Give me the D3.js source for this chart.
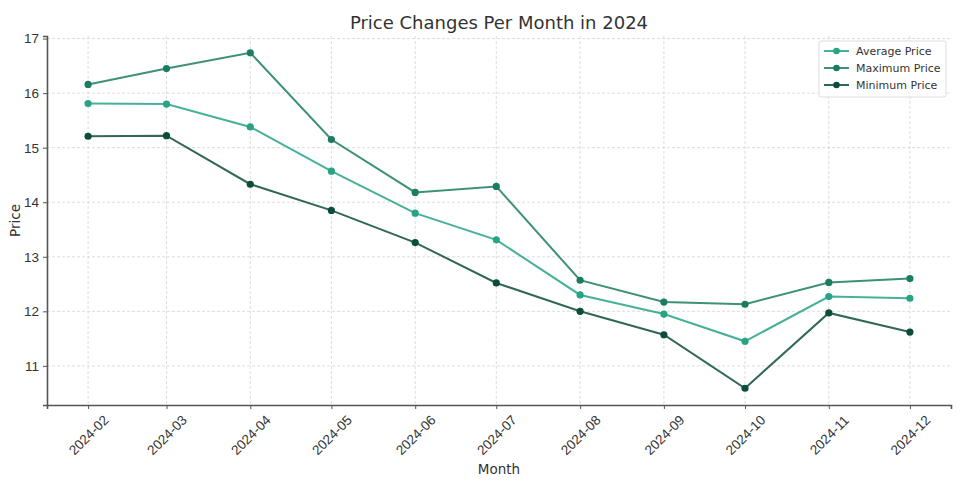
<!DOCTYPE html>
<html>
<head>
<meta charset="utf-8">
<script src="https://cdn.jsdelivr.net/npm/d3@7"></script>
<style>
  body { margin: 0; background: #fff; }
  svg { font-family: "DejaVu Sans", sans-serif; }
</style>
</head>
<body>
<svg width="960" height="500"></svg>
<script>
// data
var months = ["2024-02", "2024-03", "2024-04", "2024-05", "2024-06", "2024-07",
              "2024-08", "2024-09", "2024-10", "2024-11", "2024-12"];
var avgPrice = [15.81, 15.80, 15.38, 14.57, 13.80, 13.31, 12.30, 11.95, 11.45, 12.27, 12.24];
var maxPrice = [16.16, 16.45, 16.74, 15.15, 14.18, 14.29, 12.57, 12.17, 12.13, 12.53, 12.60];
var minPrice = [15.21, 15.22, 14.33, 13.85, 13.26, 12.52, 12.00, 11.57, 10.59, 11.97, 11.62];
var yTicks = [11, 12, 13, 14, 15, 16, 17];

var seriesNames = ["Average Price", "Maximum Price", "Minimum Price"];
var seriesValues = [avgPrice, maxPrice, minPrice];
var colors = ["#27a386", "#1c7c60", "#0c4c3a"];

var svg = d3.select("svg");
var margin = { top: 36, right: 9, bottom: 95, left: 47 };
var width = 960 - margin.left - margin.right;
var height = 500 - margin.top - margin.bottom;

var parse = d3.timeParse("%Y-%m");
var dates = months.map(parse);

// matplotlib style 5% padding
var xExt = d3.extent(dates);
var xPad = (xExt[1] - xExt[0]) * 0.05;
var x = d3.scaleTime()
    .domain([new Date(+xExt[0] - xPad), new Date(+xExt[1] + xPad)])
    .range([0, width]);

var allVals = avgPrice.concat(maxPrice, minPrice);
var yExt = d3.extent(allVals);
var yPad = (yExt[1] - yExt[0]) * 0.05;
var y = d3.scaleLinear()
    .domain([yExt[0] - yPad, yExt[1] + yPad])
    .range([height, 0]);

var g = svg.append("g").attr("transform", `translate(${margin.left},${margin.top})`);

// grid
g.append("g").selectAll("line.gy").data(yTicks).join("line")
    .attr("x1", 0).attr("x2", width)
    .attr("y1", d => y(d)).attr("y2", d => y(d))
    .attr("stroke", "#d4d4d4").attr("stroke-width", 0.8).attr("stroke-dasharray", "3,2");
g.append("g").selectAll("line.gx").data(dates).join("line")
    .attr("x1", d => x(d)).attr("x2", d => x(d))
    .attr("y1", 0).attr("y2", height)
    .attr("stroke", "#d4d4d4").attr("stroke-width", 0.8).attr("stroke-dasharray", "3,2");

// axes
var xAxis = g.append("g").attr("transform", `translate(0,${height})`)
    .call(d3.axisBottom(x).tickValues(dates).tickFormat(d3.timeFormat("%Y-%m")).tickSizeOuter(0).tickSize(4));
// labels centred under the tick, turned 45 degrees
xAxis.selectAll("text")
    .attr("font-size", 13.5).attr("fill", "#333")
    .attr("text-anchor", "middle")
    .attr("y", 0).attr("dy", "0.35em")
    .attr("transform", "translate(0,30) rotate(-45)");

var yAxis = g.append("g")
    .call(d3.axisLeft(y).tickValues(yTicks).tickFormat(d3.format("d")).tickSizeOuter(0).tickSize(4).tickPadding(4));
yAxis.selectAll("text").attr("font-size", 13.5).attr("fill", "#333");

g.selectAll(".domain").attr("stroke", "#555").attr("stroke-width", 1.6);
g.selectAll(".tick line").attr("stroke", "#555");

// lines and markers
var line = d3.line().x((d, i) => x(dates[i])).y(d => y(d));
seriesValues.forEach(function (vals, s) {
    g.append("path").datum(vals)
        .attr("fill", "none")
        .attr("stroke", colors[s])
        .attr("stroke-opacity", 0.85)
        .attr("stroke-width", 2)
        .attr("d", line);
    g.append("g").selectAll("circle").data(vals).join("circle")
        .attr("cx", (d, i) => x(dates[i]))
        .attr("cy", d => y(d))
        .attr("r", 3.6)
        .attr("fill", colors[s]);
});

// title and labels
svg.append("text").attr("x", margin.left + width / 2).attr("y", 29)
    .attr("text-anchor", "middle").attr("font-size", 18).attr("fill", "#333")
    .text("Price Changes Per Month in 2024");
svg.append("text").attr("x", margin.left + width / 2).attr("y", 474)
    .attr("text-anchor", "middle").attr("font-size", 13.5).attr("fill", "#333")
    .text("Month");
svg.append("text").attr("transform", `translate(20,${margin.top + height / 2}) rotate(-90)`)
    .attr("text-anchor", "middle").attr("font-size", 13.5).attr("fill", "#333")
    .text("Price");

// legend
var lg = svg.append("g").attr("transform", "translate(819,41)");
lg.append("rect").attr("width", 127).attr("height", 56).attr("rx", 2)
    .attr("fill", "#fff").attr("fill-opacity", 0.85).attr("stroke", "#ddd");
seriesNames.forEach(function (name, s) {
    var row = lg.append("g").attr("transform", `translate(0,${10 + s * 17})`);
    row.append("line").attr("x1", 5).attr("x2", 30)
        .attr("stroke", colors[s]).attr("stroke-width", 2).attr("stroke-opacity", 0.85);
    row.append("circle").attr("cx", 17.5).attr("r", 3.3).attr("fill", colors[s]);
    row.append("text").attr("x", 37).attr("dy", "0.35em")
        .attr("font-size", 11).attr("fill", "#333").text(name);
});
</script>
</body>
</html>
